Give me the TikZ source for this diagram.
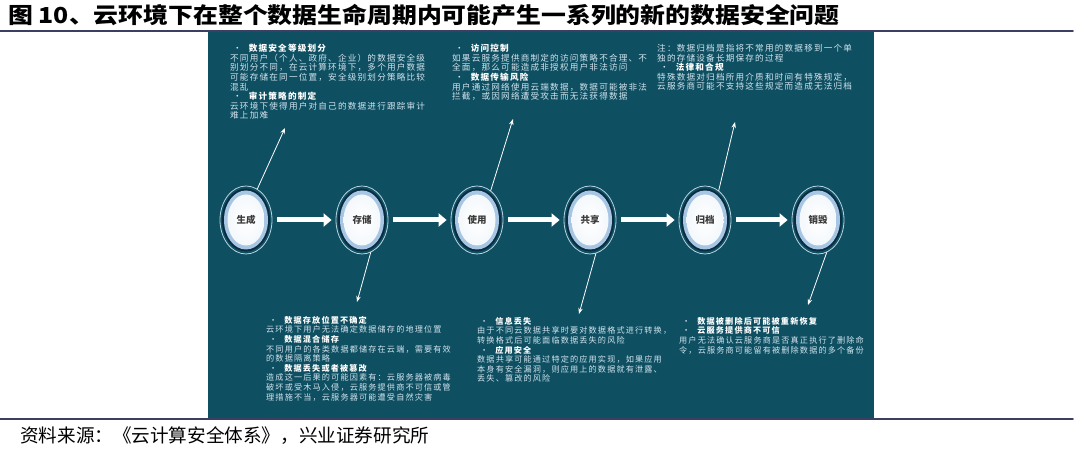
\documentclass[tikz,border=0pt]{standalone}
\usepackage{fontspec}
\usepackage{graphicx}
\usetikzlibrary{shapes.geometric,arrows.meta}
\newfontfamily\cjk{Noto Sans CJK SC}
\newfontfamily\cjkpanel{Noto Sans CJK SC}[LetterSpace=14]
\definecolor{panel}{HTML}{0E4F61}
\definecolor{rulecol}{HTML}{3B3F62}
\definecolor{ringdark}{HTML}{0B2D42}
\definecolor{ringblue}{HTML}{A6C6E4}
\definecolor{ringline}{HTML}{B9D3E2}
\definecolor{notecol}{HTML}{D2E4EE}
\definecolor{labelcol}{HTML}{3A3A3A}
\newcommand{\hd}[1]{\hspace*{3pt}•\hspace*{7pt}{\bfseries\color{white}#1}}
\begin{document}
\begin{tikzpicture}[x=1pt,y=-1pt,line cap=round,line join=round,
  stage/.style={ellipse,draw=ringline,line width=0.8pt,fill=panel,minimum width=52pt,minimum height=68pt,inner sep=0pt},
  flow/.style={draw=white,line width=5pt,line cap=butt,-{Triangle[length=8pt,width=13pt]},shorten <=5pt,shorten >=4pt},
  link/.style={draw=white,line width=0.8pt,-{Stealth[length=6pt,width=4.5pt]}},
  note/.style={anchor=north west,inner sep=0pt,align=left,text=notecol,font=\cjkpanel\fontsize{8.6}{9.6}\selectfont},
  lownote/.style={note,font=\cjkpanel\fontsize{8.15}{9.6}\selectfont}]
  \useasboundingbox (0,0) rectangle (1080,454);
  \fill[white] (0,0) rectangle (1080,454);
  \fill[panel] (208,31) rectangle (874,419);
  \draw[rulecol,line width=1.6pt] (0,31) -- (1073,31);
  \draw[rulecol,line width=1.6pt] (0,419) -- (1073,419);
  \node[anchor=west,inner sep=0pt] (title) at (8,15)
    {\scalebox{1.13}[1]{\cjk\bfseries\fontsize{22}{22}\selectfont 图 10、云环境下在整个数据生命周期内可能产生一系列的新的数据安全问题}};
  \node[anchor=west,inner sep=0pt] (source) at (20,436)
    {\cjk\fontsize{18.6}{18.6}\selectfont 资料来源：《云计算安全体系》，兴业证券研究所};
  % life cycle stages
  \foreach \n/\x/\t in {gen/246/生成,sto/362/存储,use/477/使用,sha/590/共享,arc/705/归档,des/818/销毁}{
    \node[stage] (\n) at (\x,220) {};
    \fill[ringdark] (\n.center) ellipse (24pt and 31.5pt);
    \fill[ringblue] (\n.center) ellipse (22pt and 29.5pt);
    \shade[inner color=white,outer color=white!88!ringblue] (\n.center) ellipse (18.5pt and 25.5pt);
    \node[font=\cjk\bfseries\fontsize{9.5}{10}\selectfont,text=labelcol] (\n-t) at (\n.center) {\t};
  }
  \draw[flow] (gen) -- (sto);
  \draw[flow] (sto) -- (use);
  \draw[flow] (use) -- (sha);
  \draw[flow] (sha) -- (arc);
  \draw[flow] (arc) -- (des);
  % notes
  \node[note] (gen-n) at (230,44) {\hd{数据安全等级划分}\\
    不同用户（个人、政府、企业）的数据安全级\\
    别划分不同，在云计算环境下，多个用户数据\\
    可能存储在同一位置，安全级别划分策略比较\\
    混乱\\
    \hd{审计策略的制定}\\
    云环境下使得用户对自己的数据进行跟踪审计\\
    难上加难};
  \node[note] (use-n) at (452,44) {\hd{访问控制}\\
    如果云服务提供商制定的访问策略不合理、不\\
    全面，那么可能造成非授权用户非法访问\\
    \hd{数据传输风险}\\
    用户通过网络使用云端数据，数据可能被非法\\
    拦截，或因网络遭受攻击而无法获得数据};
  \node[note] (arc-n) at (657,44) {注：数据归档是指将不常用的数据移到一个单\\
    独的存储设备长期保存的过程\\
    \hd{法律和合规}\\
    特殊数据对归档所用介质和时间有特殊规定，\\
    云服务商可能不支持这些规定而造成无法归档};
  \node[lownote] (sto-n) at (266,316) {\hd{数据存放位置不确定}\\
    云环境下用户无法确定数据储存的地理位置\\
    \hd{数据混合储存}\\
    不同用户的各类数据都储存在云端，需要有效\\
    的数据隔离策略\\
    \hd{数据丢失或者被篡改}\\
    造成这一后果的可能因素有：云服务器被病毒\\
    破坏或受木马入侵，云服务提供商不可信或管\\
    理措施不当，云服务器可能遭受自然灾害};
  \node[lownote] (sha-n) at (477,317) {\hd{信息丢失}\\
    由于不同云数据共享时要对数据格式进行转换，\\
    转换格式后可能面临数据丢失的风险\\
    \hd{应用安全}\\
    数据共享可能通过特定的应用实现，如果应用\\
    本身有安全漏洞，则应用上的数据就有泄露、\\
    丢失、篡改的风险};
  \node[lownote] (des-n) at (679,317) {\hd{数据被删除后可能被重新恢复}\\
    \hd{云服务提供商不可信}\\
    用户无法确认云服务商是否真正执行了删除命\\
    令，云服务商可能留有被删除数据的多个备份};
  % pointers to the notes
  \coordinate (gen-p) at (285,128);
  \coordinate (use-p) at (513,119);
  \coordinate (arc-p) at (735,122);
  \coordinate (sto-p) at (357,302);
  \coordinate (sha-p) at (579,314);
  \coordinate (des-p) at (808,305);
  \draw[link] (gen.70) -- (gen-p);
  \draw[link] (use.65) -- (use-p);
  \draw[link] (arc.65) -- (arc-p);
  \draw[link] (sto.-75) -- (sto-p);
  \draw[link] (sha.-80) -- (sha-p);
  \draw[link] (des.-75) -- (des-p);
\end{tikzpicture}
\end{document}
